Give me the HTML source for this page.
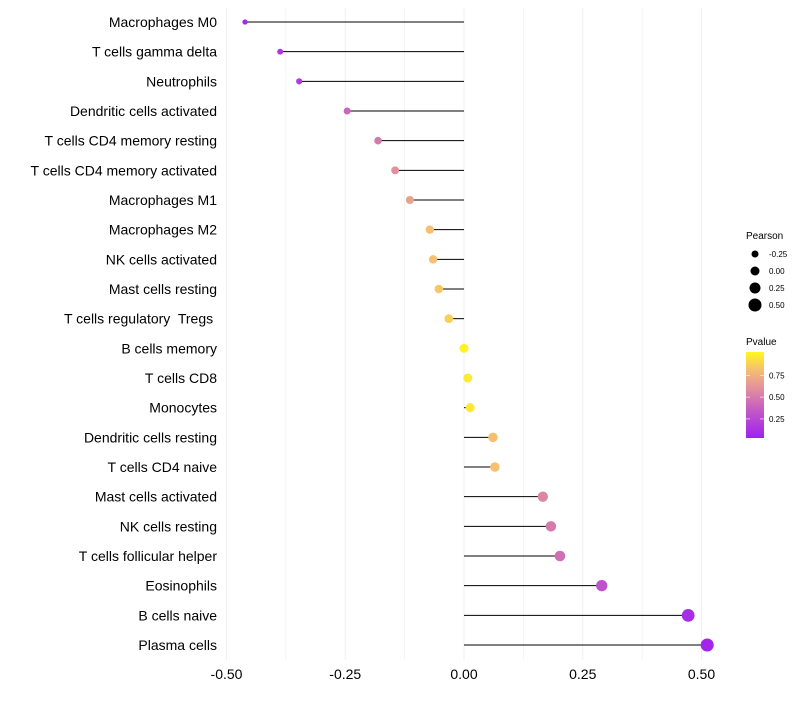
<!DOCTYPE html>
<html><head><meta charset="utf-8"><style>
body{margin:0;background:#fff;font-family:"Liberation Sans",sans-serif}
svg text{font-family:"Liberation Sans",sans-serif;white-space:pre}
</style></head><body>
<svg id="chart" width="800" height="700" xmlns="http://www.w3.org/2000/svg">
<defs><linearGradient id="pg" x1="0" y1="1" x2="0" y2="0">
<stop offset="0" stop-color="#A020F0"/><stop offset="0.35" stop-color="#C660C0"/><stop offset="0.6" stop-color="#E5959A"/><stop offset="0.8" stop-color="#F5C070"/><stop offset="1" stop-color="#FFF81E"/></linearGradient></defs>
<g id="grid"></g>
<g id="marks"></g>
<g id="axes"></g>
<g id="legend">
<text x="746" y="239" font-size="10">Pearson</text>
<text x="746" y="345" font-size="10">Pvalue</text>
<rect x="746" y="352" width="18" height="86" fill="url(#pg)"/>
</g>
</svg>
<script>
const categories=["Macrophages M0","T cells gamma delta","Neutrophils","Dendritic cells activated","T cells CD4 memory resting","T cells CD4 memory activated","Macrophages M1","Macrophages M2","NK cells activated","Mast cells resting","T cells regulatory  Tregs ","B cells memory","T cells CD8","Monocytes","Dendritic cells resting","T cells CD4 naive","Mast cells activated","NK cells resting","T cells follicular helper","Eosinophils","B cells naive","Plasma cells"];
const pearson=[-0.461,-0.387,-0.347,-0.246,-0.181,-0.145,-0.114,-0.072,-0.065,-0.053,-0.032,0.0,0.008,0.013,0.061,0.065,0.166,0.183,0.202,0.29,0.472,0.512];
const pvalue=[0.08,0.15,0.18,0.4,0.5,0.6,0.68,0.82,0.82,0.85,0.88,1.0,0.97,0.96,0.82,0.82,0.55,0.5,0.45,0.3,0.1,0.05];
const xTicks=[-0.5,-0.25,0,0.25,0.5];
const xTickLabels=["-0.50","-0.25","0.00","0.25","0.50"];
const sizeLegend=[-0.25,0,0.25,0.5];
const sizeLegendLabels=["-0.25","0.00","0.25","0.50"];
const colorLegend=[0.25,0.5,0.75];
const colorLegendLabels=["0.25","0.50","0.75"];
const NS="http://www.w3.org/2000/svg";
const x=v=>464+v*475;
const y=i=>22+i*(623/21);
const r=v=>4.5+4*v;
const cy=p=>438-(p-0.03)/0.99*86;
const stops=[[0,[160,32,240]],[0.35,[198,96,192]],[0.6,[229,149,154]],[0.8,[245,192,112]],[1,[255,248,30]]];
function col(p){let t=Math.max(0,Math.min(1,(p-0.03)/0.99));for(let k=1;k<stops.length;k++){if(t<=stops[k][0]){const a=stops[k-1],b=stops[k],f=(t-a[0])/(b[0]-a[0]);return "rgb("+a[1].map((c,j)=>Math.round(c+(b[1][j]-c)*f)).join(",")+")";}}return "rgb(255,248,30)";}
function mk(tag,at,parent){const e=document.createElementNS(NS,tag);for(const k in at)e.setAttribute(k,at[k]);parent.appendChild(e);return e;}
const grid=document.getElementById('grid'),marks=document.getElementById('marks'),axes=document.getElementById('axes'),leg=document.getElementById('legend');
for(let v=-0.5;v<=0.5001;v+=0.125){const g=mk('line',{x1:x(v),x2:x(v),y1:8,y2:660,stroke:'#efefef','stroke-width':Math.abs(v*4-Math.round(v*4))<1e-6?1:0.6},grid);

}
xTicks.forEach((v,i)=>{const t=mk('text',{x:x(v),y:679,'font-size':14,'text-anchor':'middle',fill:'#000'},axes);t.textContent=xTickLabels[i];

});
categories.forEach((c,i)=>{
const t=mk('text',{x:217,y:y(i)+5,'font-size':14,'text-anchor':'end',fill:'#000'},axes);t.textContent=c;


const l=mk('line',{x1:x(0),x2:x(pearson[i]),y1:y(i),y2:y(i),stroke:'#000','stroke-width':1},marks);


const d=mk('circle',{cx:x(pearson[i]),cy:y(i),r:r(pearson[i]),fill:col(pvalue[i])},marks);


});
sizeLegend.forEach((v,i)=>{const yy=254+i*17;
const d=mk('circle',{cx:755,cy:yy,r:r(v),fill:'#000'},leg);


const t=mk('text',{x:769,y:yy+3,'font-size':8},leg);t.textContent=sizeLegendLabels[i];

});
colorLegend.forEach((v,i)=>{const yy=cy(v);
const a=mk('line',{x1:746,x2:750,y1:yy,y2:yy,stroke:'#fff','stroke-opacity':0.6},leg);


const b=mk('line',{x1:760,x2:764,y1:yy,y2:yy,stroke:'#fff','stroke-opacity':0.6},leg);


const t=mk('text',{x:769,y:yy+3,'font-size':8},leg);t.textContent=colorLegendLabels[i];

});
</script>
</body></html>
